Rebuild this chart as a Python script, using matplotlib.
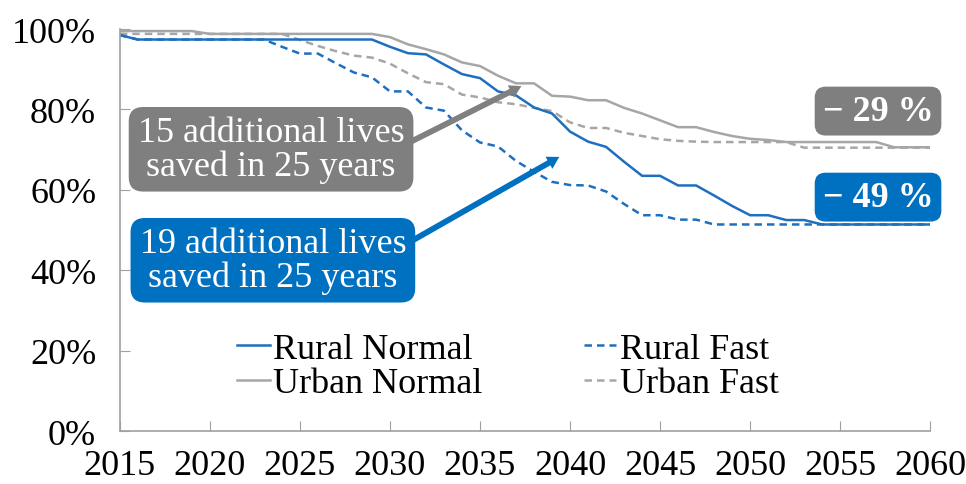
import matplotlib

matplotlib.use("Agg")
import matplotlib.pyplot as plt
import numpy as np

plt.rcParams["font.family"] = ["Liberation Serif", "DejaVu Serif"]

YEARS = np.arange(2015, 2061)
RURAL_NORMAL = [98.5] + [97.4] * 14 + [
    95.6, 94.0, 93.7, 91.2, 88.8, 87.8, 84.5, 83.5, 80.5, 79.0,
    74.5, 72.0, 70.7, 67.0, 63.5, 63.5, 61.1, 61.1, 58.6, 56.0,
    53.7, 53.7, 52.5, 52.5, 51.4] + [51.4] * 6
RURAL_FAST = [98.5] + [97.4] * 8 + [
    95.6, 93.9, 93.9, 91.5, 89.2, 88.0, 84.5, 84.5, 80.5, 79.7,
    74.8, 71.8, 70.8, 67.2, 64.5, 62.0, 61.2, 61.1, 59.6, 56.5,
    53.7, 53.7, 52.6, 52.6, 51.4] + [51.4] * 12
URBAN_NORMAL = [99.5] * 5 + [98.8] * 10 + [
    98.0, 96.2, 95.0, 93.7, 91.7, 90.8, 88.4, 86.5, 86.5, 83.4,
    83.2, 82.3, 82.3, 80.4, 79.0, 77.3, 75.6, 75.6, 74.4, 73.4,
    72.7, 72.4, 71.9] + [71.9] * 5 + [70.6] * 3
URBAN_FAST = [98.8] * 10 + [
    97.3, 95.8, 94.5, 93.4, 92.9, 91.4, 89.0, 86.8, 86.3, 83.7,
    83.0, 81.8, 81.3, 80.4, 79.6, 76.8, 75.4, 75.4, 74.2, 73.4,
    72.6, 72.2, 72.0, 71.9] + [71.9] * 4 + [70.5] * 8

BLUE = "#1F6FBF"
BOX_BLUE = "#0070C0"
GRAY = "#A6A6A6"
BOX_GRAY = "#7F7F7F"
FS = 26

fig = plt.figure(figsize=(9.66, 4.85), dpi=100)
ax = fig.add_axes([0.124, 0.109, 0.839, 0.829])

un, = ax.plot(YEARS, URBAN_NORMAL, color=GRAY, lw=1.8, label="Urban Normal")
uf, = ax.plot(YEARS, URBAN_FAST, color=GRAY, lw=1.8, ls=(0, (3, 2)), label="Urban Fast")
rn, = ax.plot(YEARS, RURAL_NORMAL, color=BLUE, lw=1.8, label="Rural Normal")
rf, = ax.plot(YEARS, RURAL_FAST, color=BLUE, lw=1.8, ls=(0, (3, 2)), label="Rural Fast")

ax.set_xlim(2015, 2060)
ax.set_ylim(0, 100)
ax.set_xticks(np.arange(2015, 2061, 5))
ax.set_yticks(np.arange(0, 101, 20))
ax.set_yticklabels([f"{v}%" for v in range(0, 101, 20)])
ax.tick_params(direction="in", length=7, color="#A0A0A0", labelsize=FS)
ax.tick_params(axis="y", pad=17)
ax.tick_params(axis="x", pad=13)
for s in ("top", "right"):
    ax.spines[s].set_visible(False)
for s in ("left", "bottom"):
    ax.spines[s].set_color("#A0A0A0")
    ax.spines[s].set_linewidth(1.2)

# arrows from the callouts to the curves
ax.annotate("", xy=(2037.3, 85.8), xytext=(2030.5, 70.5),
            arrowprops=dict(arrowstyle="simple,head_width=1.0,head_length=0.85,tail_width=0.42",
                            color="#808080", lw=0, shrinkA=0, shrinkB=0), zorder=3)
ax.annotate("", xy=(2039.4, 68.2), xytext=(2030.5, 45.5),
            arrowprops=dict(arrowstyle="simple,head_width=1.0,head_length=0.85,tail_width=0.42",
                            color=BOX_BLUE, lw=0, shrinkA=0, shrinkB=0), zorder=3)

ax.text(2023.4, 70.1, "15 additional lives\nsaved in 25 years", fontsize=FS, color="white",
        ha="center", va="center", linespacing=1.0, zorder=4,
        bbox=dict(boxstyle="round,pad=0.25,rounding_size=0.4", fc=BOX_GRAY, ec="none"))
ax.text(2023.5, 42.5, "19 additional lives\nsaved in 25 years", fontsize=FS, color="white",
        ha="center", va="center", linespacing=1.0, zorder=4,
        bbox=dict(boxstyle="round,pad=0.25,rounding_size=0.4", fc=BOX_BLUE, ec="none"))
ax.text(2057.1, 79.6, "\u2212 29 %", fontsize=FS, color="white", weight="bold",
        ha="center", va="center", zorder=4,
        bbox=dict(boxstyle="round,pad=0.22,rounding_size=0.3", fc=BOX_GRAY, ec="none"))
ax.text(2057.1, 58.2, "\u2212 49 %", fontsize=FS, color="white", weight="bold",
        ha="center", va="center", zorder=4,
        bbox=dict(boxstyle="round,pad=0.22,rounding_size=0.3", fc=BOX_BLUE, ec="none"))

ax.legend([rn, un, rf, uf], ["Rural Normal", "Urban Normal", "Rural Fast", "Urban Fast"],
          ncol=2, frameon=False, fontsize=FS, loc="upper left",
          bbox_to_anchor=(0.145, 0.245), borderaxespad=0, borderpad=0,
          handlelength=0.9, handletextpad=0.1, labelspacing=0.03, columnspacing=2.8)

fig.savefig("out.png", dpi=100)
